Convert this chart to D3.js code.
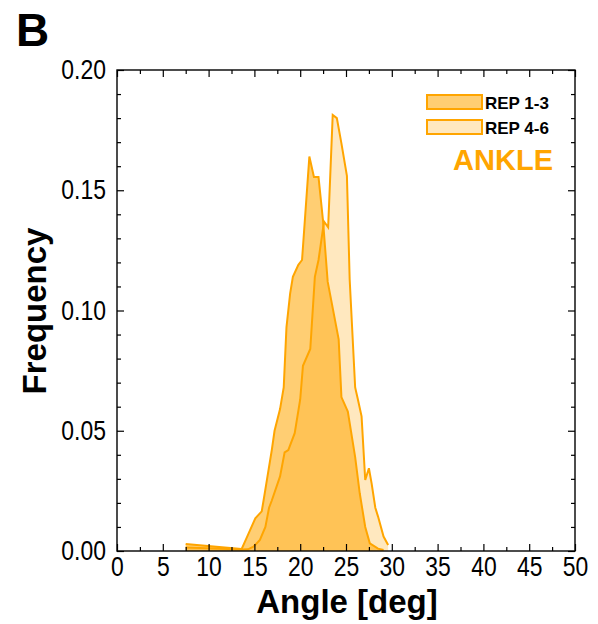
<!DOCTYPE html>
<html>
<head>
<meta charset="utf-8">
<script src="https://cdn.jsdelivr.net/npm/d3@7"></script>
<style>
  html, body { margin: 0; padding: 0; background: #fff; }
  svg { display: block; font-family: "Liberation Sans", Arial, Helvetica, sans-serif; }
</style>
</head>
<body>
<svg id="chart" width="598" height="624"></svg>
<script>
// ---- data ----
const rep13Angle = [7.5, 13.6, 14.2, 15.1, 15.8, 16.0, 16.3, 16.9, 17.2, 17.8, 18.2, 18.5, 18.9, 19.2, 19.8, 20.2, 21.0, 21.5, 22.0, 22.5, 23.0, 24.2, 24.5, 25.2, 26.0, 26.5, 27.1, 27.6, 28.5, 29.1];
const rep13Freq  = [0.0029, 0.0008, 0.0059, 0.0136, 0.0165, 0.021, 0.028, 0.042, 0.050, 0.059, 0.068, 0.093, 0.107, 0.114, 0.119, 0.121, 0.164, 0.1555, 0.1555, 0.137, 0.112, 0.088, 0.064, 0.058, 0.039, 0.024, 0.010, 0.0032, 0.001, 0.0004];

const rep46Angle = [7.5, 13.6, 14.3, 14.9, 15.6, 16.2, 16.6, 16.9, 17.8, 18.3, 18.7, 19.4, 20.0, 20.3, 21.1, 21.6, 22.0, 22.6, 23.05, 23.55, 24.0, 24.5, 25.1, 25.4, 26.0, 26.3, 26.7, 27.1, 27.5, 27.8, 28.2, 28.5, 29.1, 29.6];
const rep46Freq  = [0.0015, 0.0006, 0.0007, 0.0018, 0.0046, 0.010, 0.018, 0.021, 0.031, 0.041, 0.042, 0.049, 0.063, 0.077, 0.084, 0.114, 0.121, 0.137, 0.1346, 0.1813, 0.180, 0.1695, 0.156, 0.113, 0.068, 0.063, 0.056, 0.0295, 0.0344, 0.028, 0.018, 0.0143, 0.006, 0.0025];

const xTickLabels = [0, 5, 10, 15, 20, 25, 30, 35, 40, 45, 50];
const yTickLabels = [0.00, 0.05, 0.10, 0.15, 0.20];
const seriesNames = ["REP 1-3", "REP 4-6"];
const panelLabel = "B";
const jointLabel = "ANKLE";

// ---- layout ----
const svg = d3.select("#chart");
const pL = 117, pR = 575, pT = 70, pB = 551;
const x = d3.scaleLinear().domain([0, 50]).range([pL, pR]);
const y = d3.scaleLinear().domain([0, 0.2]).range([pB, pT]);

const ORANGE = "#FFA500";
const fills = ["rgba(255,165,0,0.55)", "rgba(255,165,0,0.25)"];

const series = [
  rep13Angle.map((a, i) => ({a, f: rep13Freq[i]})),
  rep46Angle.map((a, i) => ({a, f: rep46Freq[i]}))
];

const area = d3.area().x(d => x(d.a)).y0(y(0)).y1(d => y(d.f));
const line = d3.line().x(d => x(d.a)).y(d => y(d.f));

const plot = svg.append("g");
series.forEach((s, i) => {
  plot.append("path").attr("d", area(s)).attr("fill", fills[i]).attr("stroke", "none");
});
series.forEach((s, i) => {
  plot.append("path").attr("d", line(s)).attr("fill", "none")
    .attr("stroke", ORANGE).attr("stroke-width", 2).attr("stroke-linejoin", "miter");
});

// ---- axes ----
const fontTick = 27;
const squeeze = 0.85;
const xMinor = d3.range(0, 50.01, 2.5).filter(v => v % 5 !== 0);
const yMinor = d3.range(0, 21).map(v => v / 100).filter((v, i) => i % 5 !== 0);

function styleAxis(g) {
  g.select(".domain").remove();
  g.selectAll("line").attr("stroke", "#000").attr("stroke-width", 1.2);
  g.selectAll("text").attr("font-size", fontTick).attr("fill", "#000")
    .attr("font-family", "'Liberation Sans', Arial, Helvetica, sans-serif")
    .each(function() {
      const t = d3.select(this);
      const tx = +t.attr("x") || 0;
      t.attr("x", tx / squeeze).attr("transform", `scale(${squeeze},1)`);
    });
}

// bottom
svg.append("g").attr("transform", `translate(0,${pB})`)
  .call(d3.axisBottom(x).tickValues(xTickLabels).tickSize(-7).tickPadding(6).tickFormat(d3.format("d")))
  .call(styleAxis);
svg.append("g").attr("transform", `translate(0,${pB})`)
  .call(d3.axisBottom(x).tickValues(xMinor).tickSize(-4).tickFormat(""))
  .call(styleAxis);
// top
svg.append("g").attr("transform", `translate(0,${pT})`)
  .call(d3.axisTop(x).tickValues(xTickLabels).tickSize(-7).tickFormat(""))
  .call(styleAxis);
svg.append("g").attr("transform", `translate(0,${pT})`)
  .call(d3.axisTop(x).tickValues(xMinor).tickSize(-4).tickFormat(""))
  .call(styleAxis);
// left
svg.append("g").attr("transform", `translate(${pL},0)`)
  .call(d3.axisLeft(y).tickValues(yTickLabels).tickSize(-7).tickPadding(11).tickFormat(d3.format(".2f")))
  .call(styleAxis);
svg.append("g").attr("transform", `translate(${pL},0)`)
  .call(d3.axisLeft(y).tickValues(yMinor).tickSize(-4).tickFormat(""))
  .call(styleAxis);
// right
svg.append("g").attr("transform", `translate(${pR},0)`)
  .call(d3.axisRight(y).tickValues(yTickLabels).tickSize(-7).tickFormat(""))
  .call(styleAxis);
svg.append("g").attr("transform", `translate(${pR},0)`)
  .call(d3.axisRight(y).tickValues(yMinor).tickSize(-4).tickFormat(""))
  .call(styleAxis);

// frame
svg.append("rect").attr("x", pL).attr("y", pT).attr("width", pR - pL).attr("height", pB - pT)
  .attr("fill", "none").attr("stroke", "#000").attr("stroke-width", 1.4);

// ---- titles ----
svg.append("text").attr("x", 347).attr("y", 613).attr("text-anchor", "middle")
  .attr("font-size", 33).attr("font-weight", "bold").text("Angle [deg]");
svg.append("text").attr("transform", "translate(46,311) rotate(-90)").attr("text-anchor", "middle")
  .attr("font-size", 33).attr("font-weight", "bold").text("Frequency");
svg.append("text").attr("x", 16).attr("y", 46)
  .attr("font-size", 46).attr("font-weight", "bold").text(panelLabel);

// ---- legend ----
const legY = [95, 120];
seriesNames.forEach((name, i) => {
  svg.append("rect").attr("x", 427).attr("y", legY[i]).attr("width", 55).attr("height", 14)
    .attr("fill", fills[i]).attr("stroke", ORANGE).attr("stroke-width", 2);
  svg.append("text").attr("x", 485).attr("y", legY[i] + 13.5)
    .attr("font-size", 17).attr("font-weight", "bold").attr("fill", "#000").text(name);
});
svg.append("text").attr("x", 553).attr("y", 169.5).attr("text-anchor", "end")
  .attr("font-size", 29).attr("font-weight", "bold").attr("fill", ORANGE).text(jointLabel);
</script>
</body>
</html>
